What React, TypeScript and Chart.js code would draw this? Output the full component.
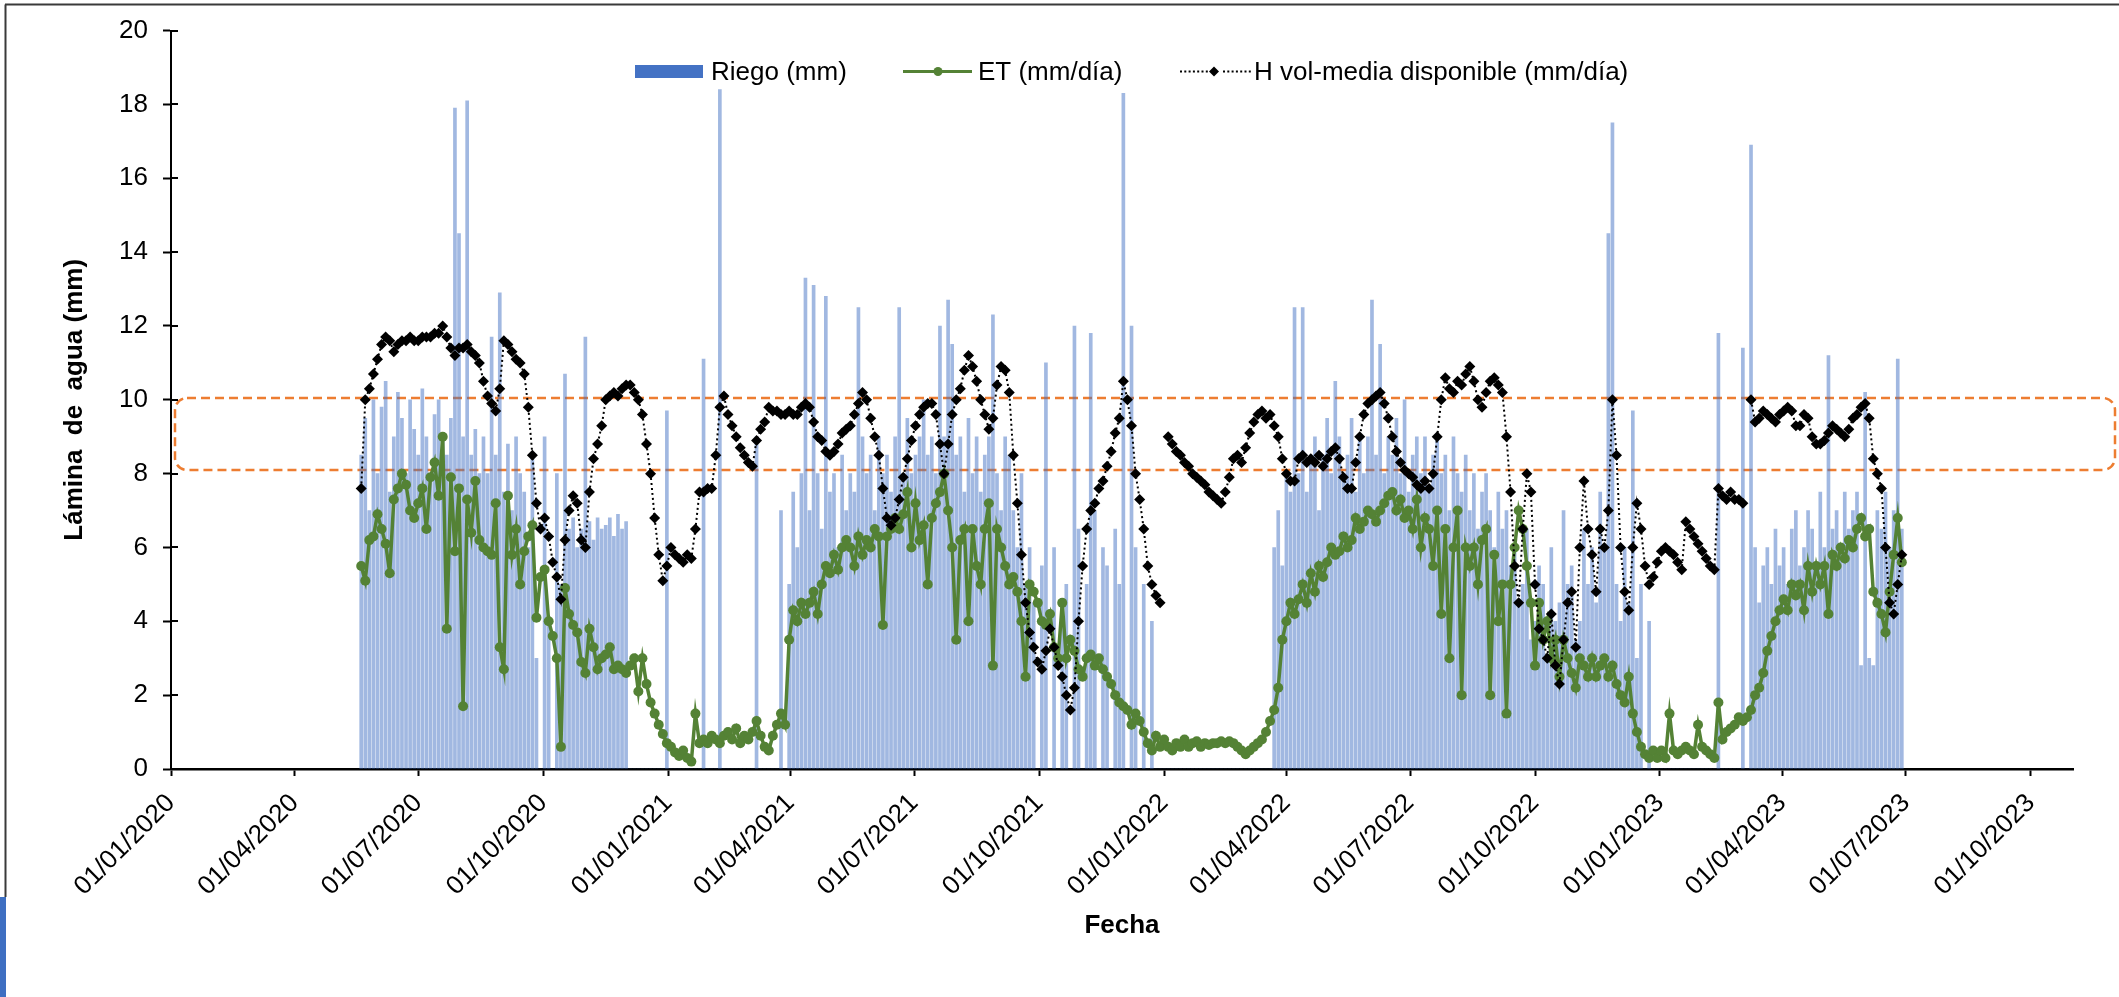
import React, { useEffect, useRef } from "react";
import { Chart, registerables } from "chart.js";

Chart.register(...registerables);

// ---------- DATA ----------
// Readings sampled every 3 days starting on this date
const seriesStartDate = "2020-05-20";
const seriesStepDays = 3;

const xTickLabels = [
  "01/01/2020", "01/04/2020", "01/07/2020", "01/10/2020",
  "01/01/2021", "01/04/2021", "01/07/2021", "01/10/2021",
  "01/01/2022", "01/04/2022", "01/07/2022", "01/10/2022",
  "01/01/2023", "01/04/2023", "01/07/2023", "01/10/2023",
];
const xAxisEndLabel = "01/11/2023";
const yAxisRange = [0, 20, 2]; // min, max, step

// target band (orange dashed rounded box)
const targetBand = [8.1, 10.05];

// Riego (mm)
const riego = [
  8.5, 9.5, 7.0, 10.0, 8.0, 9.8, 10.5, 7.5, 9.0, 10.2,
  9.5, 8.0, 10.0, 9.2, 8.5, 10.3, 9.0, 7.8, 9.6, 10.0,
  9.0, 8.5, 9.5, 17.9, 14.5, 9.0, 18.1, 8.5, 9.2, 8.0,
  9.0, 8.0, 11.7, 8.5, 12.9, 7.5, 8.8, 7.0, 9.0, 8.0,
  7.5, 6.0, 8.5, 3.0, 0, 9.0, 4.0, 0, 8.0, 5.0,
  10.7, 6.5, 6.8, 6.0, 6.5, 11.7, 6.7, 6.2, 6.8, 6.5,
  6.6, 6.8, 6.3, 6.9, 6.5, 6.7, 0, 0, 0, 0,
  0, 0, 0, 0, 0, 9.7, 0, 0, 0, 0,
  0, 0, 0, 0, 11.1, 0, 0, 0, 18.4, 0,
  0, 0, 0, 0, 0, 0, 0, 9.0, 0, 0,
  0, 0, 0, 7.0, 0, 5.0, 7.5, 6.0, 8.0, 13.3,
  7.0, 13.1, 8.0, 6.5, 12.8, 7.5, 8.0, 6.0, 8.5, 7.0,
  8.0, 7.5, 12.5, 9.0, 8.0, 8.5, 7.0, 9.0, 8.0, 8.5,
  7.5, 9.0, 12.5, 8.0, 9.5, 8.0, 8.5, 9.0, 10.0, 8.5,
  9.0, 8.0, 12.0, 9.0, 12.7, 11.5, 8.5, 9.0, 7.5, 9.5,
  8.0, 9.0, 7.5, 8.5, 9.0, 12.3, 8.0, 7.0, 9.0, 8.5,
  7.0, 6.0, 8.0, 5.0, 6.0, 4.5, 0, 5.5, 11.0, 0,
  6.0, 0, 4.5, 5.0, 0, 12.0, 6.5, 0, 5.0, 11.8,
  7.0, 0, 6.0, 5.5, 0, 6.5, 5.0, 18.3, 0, 12.0,
  6.0, 0, 5.0, 0, 4.0, 0, 0, 0, 0, 0,
  0, 0, 0, 0, 0, 0, 0, 0, 0, 0,
  0, 0, 0, 0, 0, 0, 0, 0, 0, 0,
  0, 0, 0, 0, 6.0, 7.0, 5.5, 8.0, 7.5, 12.5,
  8.0, 12.5, 7.5, 8.5, 9.0, 7.0, 8.5, 9.5, 8.0, 10.5,
  9.0, 8.0, 8.5, 9.5, 7.5, 9.0, 8.0, 9.0, 12.7, 8.5,
  11.5, 8.0, 9.0, 8.5, 9.5, 8.0, 10.0, 7.5, 8.5, 9.0,
  8.0, 9.0, 7.5, 8.5, 9.0, 8.0, 8.5, 7.0, 9.0, 8.0,
  7.5, 8.5, 7.0, 8.0, 6.5, 7.5, 8.0, 7.0, 6.0, 7.5,
  6.5, 7.0, 5.5, 6.0, 4.5, 5.0, 6.5, 3.5, 4.0, 5.5,
  5.0, 3.0, 6.0, 4.0, 4.5, 7.0, 5.0, 5.5, 3.5, 4.0,
  6.5, 5.0, 6.0, 4.5, 7.5, 6.0, 14.5, 17.5, 5.0, 4.0,
  6.0, 4.5, 9.7, 3.0, 5.0, 0, 4.0, 0, 0, 0,
  0, 0, 0, 0, 0, 0, 0, 0, 0, 0,
  0, 0, 0, 11.8, 0, 0, 0, 0, 0, 11.4,
  0, 16.9, 6.0, 4.5, 5.5, 6.0, 5.0, 6.5, 5.5, 6.0,
  5.0, 6.5, 7.0, 5.5, 6.0, 7.0, 6.5, 5.5, 7.5, 6.0,
  11.2, 6.5, 7.0, 6.0, 7.5, 6.5, 7.0, 7.5, 2.8, 10.2,
  3.0, 2.8, 7.0, 6.5, 7.5, 6.0, 7.0, 11.1, 6.5,
];

// ET (mm/día)
const et = [
  5.5, 5.1, 6.2, 6.3, 6.9, 6.5, 6.1, 5.3, 7.3, 7.6,
  8.0, 7.7, 7.0, 6.8, 7.2, 7.6, 6.5, 7.9, 8.3, 7.4,
  9.0, 3.8, 7.9, 5.9, 7.6, 1.7, 7.3, 6.4, 7.8, 6.2,
  6.0, 5.9, 5.8, 7.2, 3.3, 2.7, 7.4, 5.8, 6.5, 5.0,
  5.9, 6.3, 6.6, 4.1, 5.2, 5.4, 4.0, 3.6, 3.0, 0.6,
  4.9, 4.2, 3.9, 3.7, 2.9, 2.6, 3.8, 3.3, 2.7, 3.0,
  3.1, 3.3, 2.7, 2.8, 2.7, 2.6, 2.8, 3.0, 2.1, 3.0,
  2.3, 1.8, 1.5, 1.2, 0.95, 0.7, 0.6, 0.45, 0.35, 0.5,
  0.3, 0.2, 1.5, 0.7, 0.8, 0.7, 0.9, 0.8, 0.7, 0.9,
  1.0, 0.8, 1.1, 0.7, 0.9, 0.8, 1.0, 1.3, 0.9, 0.6,
  0.5, 0.9, 1.2, 1.5, 1.2, 3.5, 4.3, 4.0, 4.5, 4.2,
  4.5, 4.8, 4.2, 5.0, 5.5, 5.3, 5.8, 5.4, 6.0, 6.2,
  6.0, 5.5, 6.3, 5.8, 6.2, 6.0, 6.5, 6.3, 3.9, 6.3,
  6.5, 6.8, 6.5, 6.9, 7.5, 6.0, 7.2, 6.2, 6.6, 5.0,
  6.8, 7.2, 7.5, 8.0, 7.0, 6.0, 3.5, 6.2, 6.5, 4.0,
  6.5, 5.5, 5.0, 6.5, 7.2, 2.8, 6.5, 6.0, 5.5, 5.0,
  5.2, 4.8, 4.0, 2.5, 5.0, 4.8, 4.5, 4.0, 3.9, 4.2,
  3.3, 3.0, 4.5, 3.0, 3.5, 3.2, 2.7, 2.5, 3.0, 3.1,
  2.8, 3.0, 2.7, 2.5, 2.3, 2.0, 1.8, 1.7, 1.6, 1.2,
  1.5, 1.3, 1.0, 0.7, 0.5, 0.9, 0.6, 0.8, 0.6, 0.5,
  0.7, 0.6, 0.8, 0.6, 0.7, 0.75, 0.6, 0.7, 0.65, 0.7,
  0.7, 0.75, 0.7, 0.75, 0.7, 0.6, 0.5, 0.4, 0.5, 0.6,
  0.7, 0.8, 1.0, 1.3, 1.6, 2.2, 3.5, 4.0, 4.5, 4.2,
  4.6, 5.0, 4.5, 5.3, 4.8, 5.5, 5.2, 5.6, 6.0, 5.8,
  5.9, 6.3, 6.0, 6.2, 6.8, 6.5, 6.7, 7.0, 6.9, 6.7,
  7.0, 7.2, 7.4, 7.5, 7.0, 7.3, 6.8, 7.0, 6.5, 7.3,
  6.0, 6.8, 6.5, 5.5, 7.0, 4.2, 6.5, 3.0, 6.0, 7.0,
  2.0, 6.0, 5.5, 6.0, 5.0, 6.2, 6.5, 2.0, 5.8, 4.0,
  5.0, 1.5, 5.0, 6.0, 7.0, 6.5, 5.5, 4.5, 2.8, 4.5,
  3.5, 4.0, 3.0, 3.5, 2.5, 3.5, 3.0, 2.6, 2.2, 3.0,
  2.8, 2.5, 3.0, 2.5, 2.8, 3.0, 2.5, 2.8, 2.3, 2.0,
  1.8, 2.5, 1.5, 1.0, 0.6, 0.4, 0.3, 0.5, 0.3, 0.5,
  0.3, 1.5, 0.5, 0.4, 0.5, 0.6, 0.5, 0.4, 1.2, 0.6,
  0.5, 0.4, 0.3, 1.8, 0.8, 1.0, 1.1, 1.2, 1.4, 1.3,
  1.4, 1.6, 2.0, 2.2, 2.6, 3.2, 3.6, 4.0, 4.3, 4.6,
  4.3, 5.0, 4.7, 5.0, 4.3, 5.5, 4.8, 5.5, 5.0, 5.5,
  4.2, 5.8, 5.5, 6.0, 5.7, 6.2, 6.0, 6.5, 6.8, 6.3,
  6.5, 4.8, 4.5, 4.2, 3.7, 4.8, 5.8, 6.8, 5.6,
];

// H vol-media disponible (mm/día)
const hVol = [
  7.6, 10.0, 10.3, 10.7, 11.1, 11.5, 11.7, 11.6, 11.3, 11.5,
  11.6, 11.6, 11.7, 11.6, 11.6, 11.7, 11.7, 11.7, 11.8, 11.8,
  12.0, 11.7, 11.4, 11.2, 11.4, 11.4, 11.5, 11.3, 11.2, 11.0,
  10.5, 10.1, 9.9, 9.7, 10.3, 11.6, 11.5, 11.3, 11.1, 11.0,
  10.7, 9.8, 8.5, 7.2, 6.5, 6.8, 6.3, 5.6, 5.2, 4.6,
  6.2, 7.0, 7.4, 7.2, 6.2, 6.0, 7.5, 8.4, 8.8, 9.3,
  10.0, 10.1, 10.2, 10.1, 10.3, 10.4, 10.4, 10.2, 10.0, 9.6,
  8.8, 8.0, 6.8, 5.8, 5.1, 5.5, 6.0, 5.8, 5.7, 5.6,
  5.8, 5.7, 6.5, 7.5, 7.5, 7.6, 7.6, 8.5, 9.8, 10.1,
  9.6, 9.3, 9.0, 8.7, 8.5, 8.3, 8.2, 8.9, 9.2, 9.4,
  9.8, 9.7, 9.7, 9.6, 9.6, 9.7, 9.6, 9.6, 9.8, 9.9,
  9.8, 9.4, 9.0, 8.9, 8.6, 8.5, 8.6, 8.8, 9.1, 9.2,
  9.3, 9.6, 9.9, 10.2, 10.0, 9.5, 9.0, 8.5, 7.6, 6.8,
  6.6, 6.8, 7.3, 7.9, 8.4, 8.9, 9.3, 9.6, 9.8, 9.9,
  9.9, 9.6, 8.8, 8.0, 8.8, 9.6, 10.0, 10.3, 10.8, 11.2,
  10.9, 10.5, 10.0, 9.6, 9.2, 9.5, 10.4, 10.9, 10.8, 10.2,
  8.5, 7.2, 5.8, 4.5, 3.7, 3.3, 2.9, 2.7, 3.2, 3.8,
  3.3, 2.8, 2.5, 2.0, 1.6, 2.2, 4.0, 5.5, 6.5, 7.0,
  7.2, 7.6, 7.8, 8.2, 8.6, 9.1, 9.5, 10.5, 10.0, 9.3,
  8.0, 7.3, 6.5, 5.5, 5.0, 4.7, 4.5, null, 9.0, 8.8,
  8.6, 8.5, 8.3, 8.2, 8.0, 7.9, 7.8, 7.7, 7.5, 7.4,
  7.3, 7.2, 7.5, 7.9, 8.4, 8.5, 8.3, 8.7, 9.1, 9.4,
  9.6, 9.7, 9.5, 9.6, 9.3, 9.0, 8.4, 8.0, 7.8, 7.8,
  8.4, 8.5, 8.3, 8.4, 8.3, 8.5, 8.2, 8.4, 8.6, 8.7,
  8.4, 7.9, 7.6, 7.6, 8.3, 9.0, 9.6, 9.9, 10.0, 10.1,
  10.2, 9.9, 9.5, 9.0, 8.6, 8.3, 8.1, 8.0, 7.9, 7.7,
  7.6, 7.8, 7.6, 8.0, 9.0, 10.0, 10.6, 10.3, 10.2, 10.5,
  10.4, 10.7, 10.9, 10.5, 10.0, 9.8, 10.2, 10.5, 10.6, 10.4,
  10.2, 9.0, 7.5, 5.5, 4.5, 6.5, 8.0, 7.5, 5.0, 3.8,
  3.5, 3.0, 4.2, 2.8, 2.3, 3.5, 4.5, 4.8, 3.3, 6.0,
  7.8, 6.5, 5.8, 4.8, 6.5, 6.0, 7.0, 10.0, 8.5, 6.0,
  4.8, 4.3, 6.0, 7.2, 6.5, 5.5, 5.0, 5.2, 5.6, 5.9,
  6.0, 5.9, 5.8, 5.6, 5.4, 6.7, 6.5, 6.3, 6.1, 5.9,
  5.7, 5.5, 5.4, 7.6, 7.4, 7.3, 7.5, 7.3, 7.3, 7.2,
  null, 10.0, 9.4, 9.5, 9.7, 9.6, 9.5, 9.4, 9.6, 9.7,
  9.8, 9.7, 9.3, 9.3, 9.6, 9.5, 9.0, 8.8, 8.8, 8.9,
  9.1, 9.3, 9.2, 9.1, 9.0, 9.2, 9.5, 9.6, 9.8, 9.9,
  9.5, 8.4, 8.0, 7.6, 6.0, 4.5, 4.2, 5.0, 5.8,
];

// ---------- HELPERS ----------
const ORIGIN = Date.UTC(2020, 0, 1);
const DAY = 86400000;
const dayFromDMY = (s: string) => {
  const [d, m, y] = s.split("/").map(Number);
  return (Date.UTC(y, m - 1, d) - ORIGIN) / DAY;
};
const dayFromISO = (s: string) => {
  const [y, m, d] = s.split("-").map(Number);
  return (Date.UTC(y, m - 1, d) - ORIGIN) / DAY;
};
const xTickDays = xTickLabels.map(dayFromDMY);
const startDay = dayFromISO(seriesStartDate);
const toPoints = (arr: (number | null)[]) =>
  arr.map((v, i) => ({ x: startDay + i * seriesStepDays, y: v }));

const FONT = "'Liberation Sans', Arial, Helvetica, sans-serif";
const COLOR_RIEGO = "#4472C4";
const COLOR_ET = "#548235";
const COLOR_BOX = "#ED7D31";

const decorPlugin = {
  id: "decor",
  beforeDraw(chart: any) {
    const { ctx, width, height } = chart;
    ctx.save();
    ctx.fillStyle = "#ffffff";
    ctx.fillRect(0, 0, width, height);
    ctx.strokeStyle = "#3a3a3a";
    ctx.lineWidth = 2;
    ctx.beginPath();
    ctx.moveTo(5, 4.5);
    ctx.lineTo(width, 4.5);
    ctx.moveTo(5.5, 4.5);
    ctx.lineTo(5.5, 897);
    ctx.stroke();
    ctx.fillStyle = "#3E6FC2";
    ctx.fillRect(0, 897, 6, height - 897);
    ctx.restore();
  },
  beforeDatasetsDraw(chart: any) {
    const { ctx, chartArea, scales, width } = chart;
    const y = scales.y;
    const top = y.getPixelForValue(targetBand[1]);
    const bottom = y.getPixelForValue(targetBand[0]);
    const left = chartArea.left + 4;
    const right = width - 4;
    const r = 12;
    ctx.save();
    ctx.strokeStyle = COLOR_BOX;
    ctx.lineWidth = 2.5;
    ctx.setLineDash([9, 5]);
    ctx.beginPath();
    ctx.moveTo(left + r, top);
    ctx.lineTo(right - r, top);
    ctx.arcTo(right, top, right, top + r, r);
    ctx.lineTo(right, bottom - r);
    ctx.arcTo(right, bottom, right - r, bottom, r);
    ctx.lineTo(left + r, bottom);
    ctx.arcTo(left, bottom, left, bottom - r, r);
    ctx.lineTo(left, top + r);
    ctx.arcTo(left, top, left + r, top, r);
    ctx.closePath();
    ctx.stroke();
    ctx.restore();
  },
  afterDraw(chart: any) {
    const { ctx, chartArea, scales } = chart;
    const y = scales.y;
    ctx.save();
    ctx.strokeStyle = "#000";
    ctx.lineWidth = 2;
    ctx.beginPath();
    y.ticks.forEach((t: any) => {
      const py = Math.round(y.getPixelForValue(t.value));
      ctx.moveTo(chartArea.left, py);
      ctx.lineTo(chartArea.left + 7, py);
    });
    ctx.stroke();

    // legend
    const base = 80;
    const mid = 71.5;
    ctx.font = `26px ${FONT}`;
    ctx.textBaseline = "alphabetic";
    ctx.textAlign = "left";
    ctx.fillStyle = COLOR_RIEGO;
    ctx.fillRect(635, 65, 68, 13);
    ctx.fillStyle = "#000";
    ctx.fillText(chart.data.datasets[2].label, 711, base);
    ctx.strokeStyle = COLOR_ET;
    ctx.lineWidth = 3;
    ctx.setLineDash([]);
    ctx.beginPath();
    ctx.moveTo(903, mid);
    ctx.lineTo(972, mid);
    ctx.stroke();
    ctx.fillStyle = COLOR_ET;
    ctx.beginPath();
    ctx.arc(938, mid, 4.5, 0, Math.PI * 2);
    ctx.fill();
    ctx.fillStyle = "#000";
    ctx.fillText(chart.data.datasets[1].label, 978, base);
    for (let x = 1180; x <= 1249; x += 4.3) {
      if (Math.abs(x - 1214) < 5) continue;
      ctx.fillRect(x, mid - 1, 2, 2);
    }
    ctx.beginPath();
    ctx.moveTo(1214, mid - 5);
    ctx.lineTo(1219, mid);
    ctx.lineTo(1214, mid + 5);
    ctx.lineTo(1209, mid);
    ctx.closePath();
    ctx.fill();
    ctx.fillText(chart.data.datasets[0].label, 1254, base);
    ctx.restore();
  },
};

export default function App() {
  const ref = useRef<HTMLCanvasElement | null>(null);
  useEffect(() => {
    if (!ref.current) return;
    const chart = new Chart(ref.current, {
      type: "line",
      data: {
        datasets: [
          {
            type: "line",
            label: "H vol-media disponible (mm/día)",
            data: toPoints(hVol),
            borderColor: "#000",
            borderWidth: 2,
            borderDash: [2, 3],
            pointStyle: "rectRot",
            pointRadius: 5.5,
            pointBackgroundColor: "#000",
            pointBorderColor: "#000",
            pointBorderWidth: 0,
            spanGaps: false,
            order: 1,
          },
          {
            type: "line",
            label: "ET (mm/día)",
            data: toPoints(et),
            borderColor: COLOR_ET,
            borderWidth: 3.5,
            pointStyle: "circle",
            pointRadius: 5,
            pointBackgroundColor: COLOR_ET,
            pointBorderColor: COLOR_ET,
            pointBorderWidth: 0,
            order: 2,
          },
          {
            type: "bar",
            label: "Riego (mm)",
            data: toPoints(riego),
            backgroundColor: "rgba(68,114,196,0.5)",
            borderWidth: 0,
            barThickness: 3,
            order: 3,
          },
        ] as any,
      },
      options: {
        responsive: false,
        animation: false,
        events: [],
        layout: { padding: { top: 30, right: 46, left: 0, bottom: 0 } },
        plugins: { legend: { display: false }, tooltip: { enabled: false } },
        scales: {
          x: {
            type: "linear",
            min: xTickDays[0],
            max: dayFromDMY(xAxisEndLabel),
            offset: false,
            afterBuildTicks: (s: any) => {
              s.ticks = xTickDays.map((v) => ({ value: v }));
            },
            afterFit: (s: any) => {
              s.height = 228;
            },
            ticks: {
              autoSkip: false,
              maxRotation: 45,
              minRotation: 45,
              padding: 12,
              color: "#000",
              font: { family: FONT, size: 26 },
              callback: (_v: any, i: number) => xTickLabels[i],
            },
            grid: {
              display: true,
              drawOnChartArea: false,
              drawTicks: true,
              tickLength: 7,
              tickWidth: 2,
              color: "#000",
              offset: false,
            },
            border: { display: true, color: "#000", width: 2.5 },
            title: {
              display: true,
              text: "Fecha",
              color: "#000",
              font: { family: FONT, size: 26, weight: "bold" },
              padding: { top: 0, bottom: 56 },
            },
          },
          y: {
            type: "linear",
            min: yAxisRange[0],
            max: yAxisRange[1],
            afterFit: (s: any) => {
              s.width = 171;
            },
            ticks: {
              stepSize: yAxisRange[2],
              padding: 15,
              color: "#000",
              font: { family: FONT, size: 26 },
            },
            grid: {
              display: true,
              drawOnChartArea: false,
              drawTicks: true,
              tickLength: 8,
              tickWidth: 2,
              color: "#000",
            },
            border: { display: true, color: "#000", width: 2 },
            title: {
              display: true,
              text: "Lámina  de  agua (mm)",
              color: "#000",
              font: { family: FONT, size: 26, weight: "bold" },
              padding: { top: 59, bottom: 0 },
            },
          },
        },
      } as any,
      plugins: [decorPlugin],
    });
    return () => chart.destroy();
  }, []);

  return (
    <div
      style={{
        position: "fixed",
        left: 0,
        top: 0,
        width: 2119,
        height: 997,
        background: "#fff",
      }}
    >
      <canvas ref={ref} width={2119} height={997} style={{ display: "block" }} />
    </div>
  );
}
